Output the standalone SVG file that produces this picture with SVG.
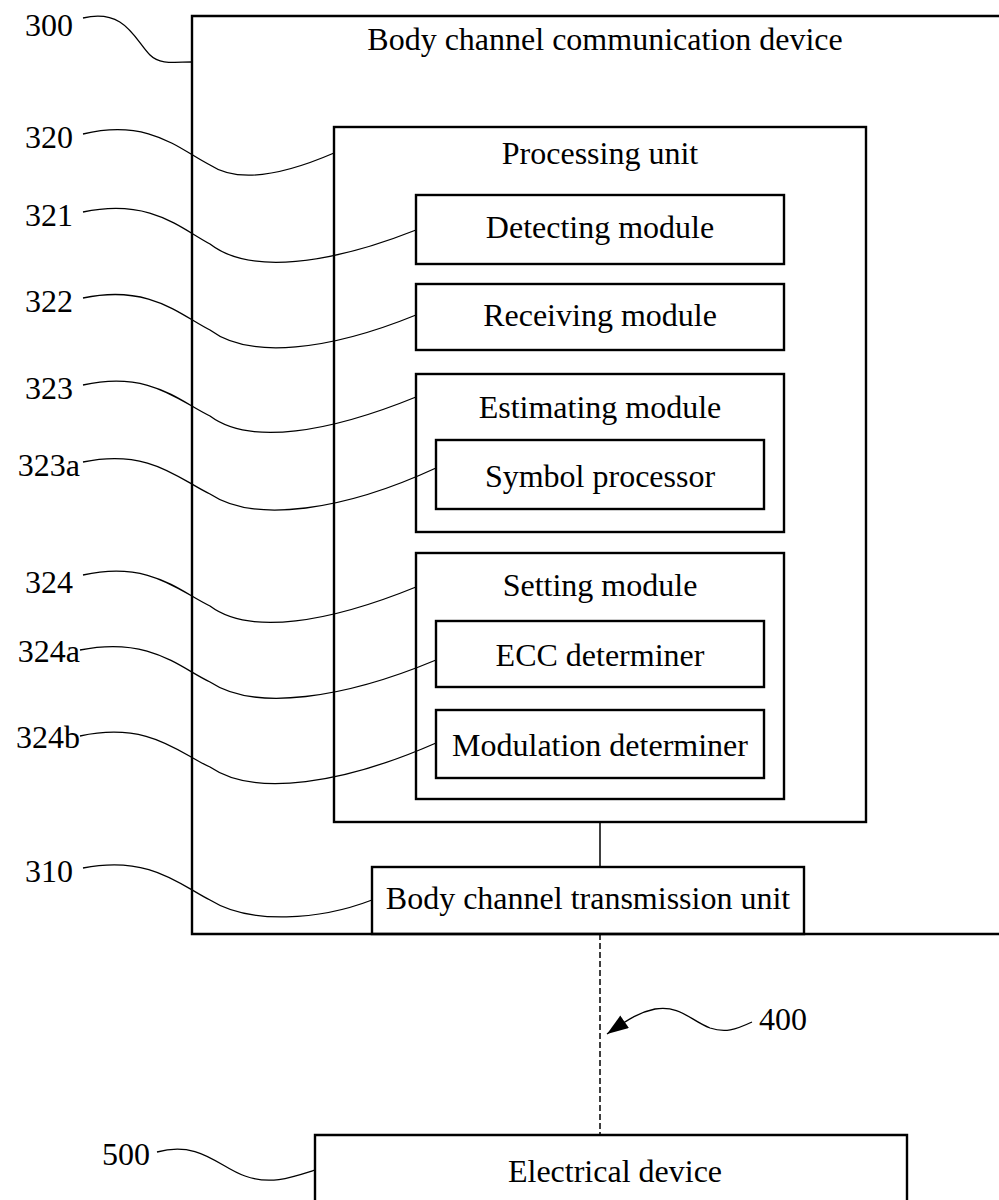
<svg xmlns="http://www.w3.org/2000/svg" width="999" height="1200" viewBox="0 0 999 1200">
<style>
.box{fill:none;stroke:#000;stroke-width:2.4}
.t{font-family:"Liberation Serif","Times New Roman",serif;font-size:32px;fill:#000;text-anchor:middle}
.n{font-family:"Liberation Serif","Times New Roman",serif;font-size:32px;fill:#000;text-anchor:end}
.lead{fill:none;stroke:#000;stroke-width:1.3}
.conn{fill:none;stroke:#000;stroke-width:1.5}
</style>
<defs>
<marker id="ah2" viewBox="0 0 20 14" refX="20" refY="7" markerWidth="22" markerHeight="15" orient="auto" markerUnits="userSpaceOnUse">
<path d="M0,0 L20,7 L0,14 z" fill="#000"/>
</marker>
</defs>
<rect width="999" height="1200" fill="#fff"/>

<g id="n300">
<path class="box" d="M1005,16 L192,16 L192,934 L1005,934"/>
<text class="t" x="605" y="50">Body channel communication device</text>
</g>
<g id="n320">
<rect class="box" x="334" y="127" width="532" height="695"/>
<text class="t" x="600" y="164">Processing unit</text>
</g>
<g id="n321">
<rect class="box" x="416" y="195" width="368" height="69"/>
<text class="t" x="600" y="238">Detecting module</text>
</g>
<g id="n322">
<rect class="box" x="416" y="284" width="368" height="66"/>
<text class="t" x="600" y="326">Receiving module</text>
</g>
<g id="n323">
<rect class="box" x="416" y="374" width="368" height="158"/>
<text class="t" x="600" y="418">Estimating module</text>
</g>
<g id="n323a">
<rect class="box" x="436" y="440" width="328" height="69"/>
<text class="t" x="600" y="487">Symbol processor</text>
</g>
<g id="n324">
<rect class="box" x="416" y="553" width="368" height="246"/>
<text class="t" x="600" y="596">Setting module</text>
</g>
<g id="n324a">
<rect class="box" x="436" y="621" width="328" height="66"/>
<text class="t" x="600" y="666">ECC determiner</text>
</g>
<g id="n324b">
<rect class="box" x="436" y="710" width="328" height="68"/>
<text class="t" x="600" y="756">Modulation determiner</text>
</g>
<g id="n310">
<rect class="box" x="372" y="867" width="432" height="67"/>
<text class="t" x="588" y="909">Body channel transmission unit</text>
</g>
<g id="n500">
<path class="box" d="M315,1205 L315,1135 L907,1135 L907,1205"/>
<text class="t" x="615" y="1182">Electrical device</text>
</g>

<g id="labels">
<text class="n" x="73" y="36">300</text>
<text class="n" x="73" y="148">320</text>
<text class="n" x="73" y="226">321</text>
<text class="n" x="73" y="312">322</text>
<text class="n" x="73" y="399">323</text>
<text class="n" x="80" y="476">323a</text>
<text class="n" x="73" y="593">324</text>
<text class="n" x="80" y="662">324a</text>
<text class="n" x="80" y="748">324b</text>
<text class="n" x="73" y="882">310</text>
<text class="n" x="150" y="1165">500</text>
<text class="t" x="759" y="1030" style="text-anchor:start">400</text>
</g>

<g id="connectors">
<line class="conn" x1="600" y1="822" x2="600" y2="867"/>
<line class="conn" x1="600" y1="934" x2="600" y2="1135" stroke-dasharray="6,3"/>
<path class="lead" d="M83,18 C125,8 135,40 150,55 C160,65 175,62 192,62"/>
<path class="lead" d="M83,134 C150,118 180,150 210,165 C240,185 290,172 334,153"/>
<path class="lead" d="M83,212 C150,198 180,228 210,244 C250,275 330,264 416,230"/>
<path class="lead" d="M83,298 C150,284 180,315 210,330 C250,360 330,350 416,315"/>
<path class="lead" d="M83,385 C150,370 180,402 210,416 C250,446 330,432 416,397"/>
<path class="lead" d="M83,462 C150,448 180,480 210,494 C255,524 345,510 436,468"/>
<path class="lead" d="M83,575 C150,560 180,592 210,606 C250,636 330,622 416,587"/>
<path class="lead" d="M80,650 C150,636 180,668 210,682 C255,712 345,698 436,660"/>
<path class="lead" d="M80,736 C150,721 180,754 210,767 C255,798 345,783 436,743"/>
<path class="lead" d="M83,868 C150,855 180,885 210,900 C250,925 320,920 372,900"/>
<path class="lead" d="M157,1152 C200,1140 220,1168 245,1176 C270,1185 290,1178 315,1170"/>
<path class="lead" d="M752,1022 C735,1030 725,1033 710,1028 C690,1020 680,1005 655,1009 C640,1012 630,1018 607,1034" marker-end="url(#ah2)"/>
</g>
</svg>
